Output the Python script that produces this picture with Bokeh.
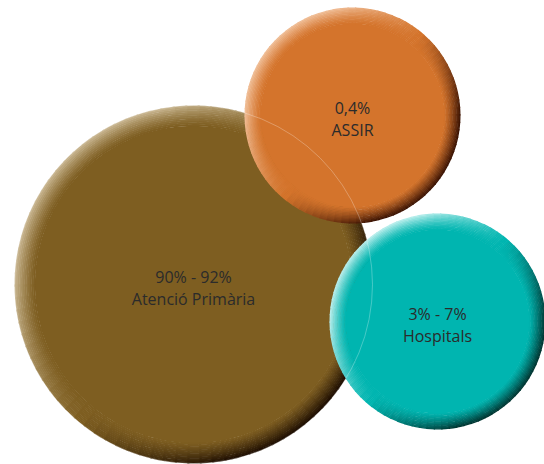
import numpy as np
from bokeh.plotting import figure
from bokeh.models import Range1d, ColumnDataSource
from bokeh.core.properties import value
from bokeh.embed import file_html
from bokeh.resources import INLINE

# ---- data -------------------------------------------------------------
labels_value = ["90% - 92%", "0,4%", "3% - 7%"]
labels_name = ["Atenció Primària", "ASSIR", "Hospitals"]
bubble_x = [193, 352, 437]          # horizontal position
bubble_y = [180, 349, 143]          # vertical position (from bottom)
bubble_r = [179, 108, 108]          # bubble radius
base_colors = ["#7e5e21", "#d4742c", "#00b5b0"]
light_colors = ["#cbb994", "#f1c09a", "#bff0ee"]
dark_colors = ["#1a0b00", "#361002", "#00302c"]

# ---- figure -----------------------------------------------------------
p = figure(width=544, height=464, output_backend="svg", toolbar_location=None,
           x_range=Range1d(0, 544), y_range=Range1d(0, 464),
           min_border=0, min_border_left=0, min_border_right=0,
           min_border_top=0, min_border_bottom=0)
p.axis.visible = False
p.grid.visible = False
p.outline_line_color = None
p.background_fill_color = "white"
p.border_fill_color = "white"


def rgb(h):
    h = h.lstrip("#")
    return np.array([int(h[i:i + 2], 16) for i in (0, 2, 4)], dtype=float)


def hexc(c):
    c = np.clip(np.round(c), 0, 255).astype(int)
    return "#%02x%02x%02x" % tuple(c)


n_ang = 90
n_rad = 12

for i in range(len(bubble_x)):
    cx, cy, r = bubble_x[i], bubble_y[i], bubble_r[i]
    base, light, dark = rgb(base_colors[i]), rgb(light_colors[i]), rgb(dark_colors[i])
    w = 10 + 0.06 * r
    # flat inner disc
    p.circle(x=[cx], y=[cy], radius=r - w + 0.5, fill_color=base_colors[i], line_color=None)
    # bevelled rim
    xs, ys, inn, out, sa, ea, cols = [], [], [], [], [], [], []
    dth = 2 * np.pi / n_ang
    for j in range(n_rad):
        r0 = r - w + j * w / n_rad
        r1 = min(r, r0 + w / n_rad + 0.5)
        u = (j + 0.5) / n_rad
        for k in range(n_ang):
            th = (k + 0.5) * dth
            s = np.cos(th - np.deg2rad(140))
            if s > 0:
                tgt = light
                t = min(1.0, s * 1.3) * u ** 1.3
            else:
                tgt = dark
                t = min(1.0, -s * 1.3) * u ** 1.2
            cols.append(hexc(base + (tgt - base) * t))
            xs.append(cx); ys.append(cy)
            inn.append(r0); out.append(r1)
            sa.append(k * dth); ea.append((k + 1) * dth + 0.012)
    src = ColumnDataSource(dict(x=xs, y=ys, inner=inn, outer=out, start=sa, end=ea, color=cols))
    p.annular_wedge(x="x", y="y", inner_radius="inner", outer_radius="outer",
                    start_angle="start", end_angle="end", fill_color="color",
                    line_color=None, source=src)

# faint outline of the large bubble showing through the others
p.circle(x=bubble_x[:1], y=bubble_y[:1], radius=bubble_r[0], fill_color=None,
         line_color="white", line_alpha=0.35, line_width=0.8)

# labels
p.text(x=bubble_x, y=[y + 7.5 for y in bubble_y], text=labels_value,
       text_align="center", text_baseline="middle", text_font=value("Open Sans"),
       text_font_size="16px", text_color="#2b2b2b")
p.text(x=bubble_x, y=[y - 14.5 for y in bubble_y], text=labels_name,
       text_align="center", text_baseline="middle", text_font=value("Open Sans"),
       text_font_size="16px", text_color="#2b2b2b")

open("out.html", "w").write(file_html(p, INLINE))
